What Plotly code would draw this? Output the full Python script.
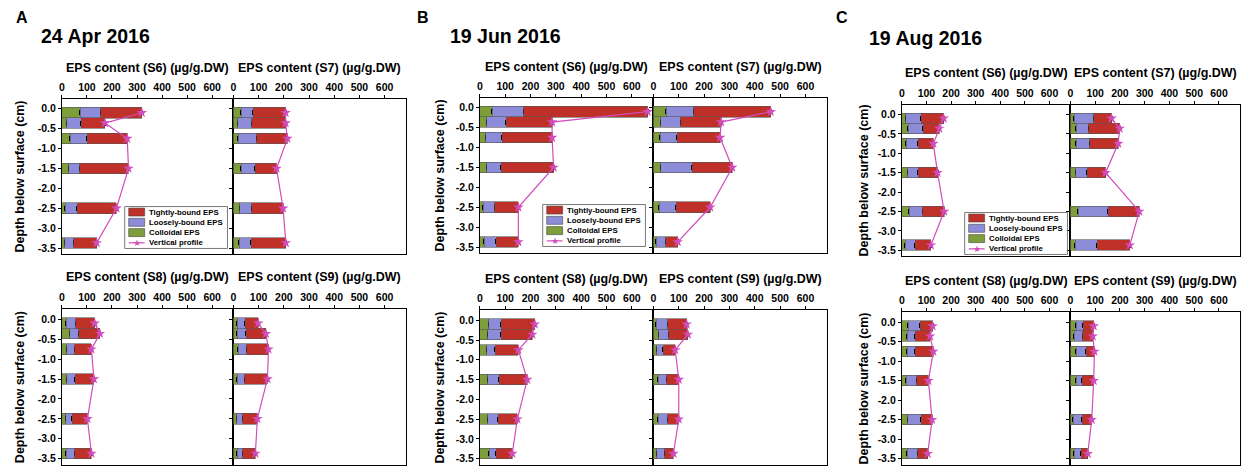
import plotly.graph_objects as go

# ---------------- data ----------------
depths = [-0.1, -0.36, -0.75, -1.5, -2.5, -3.37]
ytick_vals = [0.0, -0.5, -1.0, -1.5, -2.0, -2.5, -3.0, -3.5]
ytick_text = ["0.0", "-0.5", "-1.0", "-1.5", "-2.0", "-2.5", "-3.0", "-3.5"]
xtick_vals = [0, 100, 200, 300, 400, 500, 600]
xtick_text = ["0", "100", "200", "300", "400", "500", "600"]

# Panel A : 24 Apr 2016
A_S6_colloidal = [74, 20, 33, 28, 13, 11]
A_S6_loosely = [82, 57, 68, 44, 48, 37]
A_S6_tightly = [163, 95, 160, 194, 157, 91]
A_S7_colloidal = [30, 17, 20, 30, 26, 24]
A_S7_loosely = [49, 55, 72, 56, 46, 46]
A_S7_tightly = [128, 135, 122, 85, 125, 138]
A_S8_colloidal = [17, 31, 19, 19, 15, 17]
A_S8_loosely = [38, 37, 32, 34, 26, 34]
A_S8_tightly = [76, 84, 67, 75, 61, 67]
A_S9_colloidal = [16, 16, 20, 15, 13, 16]
A_S9_loosely = [30, 34, 33, 29, 24, 21]
A_S9_tightly = [52, 79, 86, 91, 58, 50]

# Panel B : 19 Jun 2016
B_S6_colloidal = [48, 28, 24, 28, 13, 17]
B_S6_loosely = [126, 76, 64, 57, 46, 48]
B_S6_tightly = [488, 181, 197, 206, 93, 87]
B_S7_colloidal = [51, 29, 27, 29, 23, 11]
B_S7_loosely = [109, 78, 66, 124, 68, 38]
B_S7_tightly = [303, 160, 170, 158, 133, 47]
B_S8_colloidal = [35, 31, 28, 31, 31, 37]
B_S8_loosely = [49, 53, 33, 46, 41, 28]
B_S8_tightly = [133, 123, 91, 110, 76, 63]
B_S9_colloidal = [12, 21, 13, 19, 19, 14]
B_S9_loosely = [45, 40, 25, 34, 38, 30]
B_S9_tightly = [74, 75, 48, 47, 43, 35]

# Panel C : 19 Aug 2016
C_S6_colloidal = [15, 27, 17, 24, 31, 13]
C_S6_loosely = [63, 60, 50, 43, 54, 42]
C_S6_tightly = [92, 65, 61, 78, 87, 63]
C_S7_colloidal = [15, 24, 24, 22, 31, 20]
C_S7_loosely = [79, 51, 54, 45, 121, 88]
C_S7_tightly = [72, 124, 115, 75, 126, 132]
C_S8_colloidal = [27, 22, 22, 18, 24, 22]
C_S8_loosely = [47, 33, 33, 43, 54, 43]
C_S8_tightly = [51, 60, 73, 47, 45, 40]
C_S9_colloidal = [23, 16, 23, 23, 12, 16]
C_S9_loosely = [29, 34, 40, 24, 35, 27]
C_S9_tightly = [42, 40, 34, 47, 39, 27]

panels = [
    ("A", "24 Apr 2016", {
        "S6": (A_S6_colloidal, A_S6_loosely, A_S6_tightly),
        "S7": (A_S7_colloidal, A_S7_loosely, A_S7_tightly),
        "S8": (A_S8_colloidal, A_S8_loosely, A_S8_tightly),
        "S9": (A_S9_colloidal, A_S9_loosely, A_S9_tightly)}),
    ("B", "19 Jun 2016", {
        "S6": (B_S6_colloidal, B_S6_loosely, B_S6_tightly),
        "S7": (B_S7_colloidal, B_S7_loosely, B_S7_tightly),
        "S8": (B_S8_colloidal, B_S8_loosely, B_S8_tightly),
        "S9": (B_S9_colloidal, B_S9_loosely, B_S9_tightly)}),
    ("C", "19 Aug 2016", {
        "S6": (C_S6_colloidal, C_S6_loosely, C_S6_tightly),
        "S7": (C_S7_colloidal, C_S7_loosely, C_S7_tightly),
        "S8": (C_S8_colloidal, C_S8_loosely, C_S8_tightly),
        "S9": (C_S9_colloidal, C_S9_loosely, C_S9_tightly)}),
]

series_names = ["Colloidal EPS", "Loosely-bound EPS", "Tightly-bound EPS"]
series_colors = ["#7E9E3C", "#8C8CD8", "#BF3128"]
profile_color = "#D24CBA"

# ---------------- layout geometry (pixels) ----------------
W, H = 1247, 466
FONT = "Arial, 'Liberation Sans', sans-serif"

geom = {
    "A": dict(cols=[(59, 231), (231, 404)], rows=[(99, 255), (310, 466)], title_y=[68, 278],
              ytitle_x=17, label=(11, 18), date=(36, 36), legend=(122, 207)),
    "B": dict(cols=[(478, 652), (652, 826)], rows=[(98, 254), (311, 466)], title_y=[67, 280],
              ytitle_x=438, label=(413, 18), date=(446, 36), legend=(541, 205)),
    "C": dict(cols=[(901, 1070), (1070, 1240)], rows=[(105, 257), (313, 466)], title_y=[73, 282],
              ytitle_x=863, label=(833, 18), date=(866, 38), legend=(964, 213)),
}


def px(x):
    return x / W


def py(y):
    return 1 - y / H


fig = go.Figure()
layout = dict(
    width=W, height=H, margin=dict(l=0, r=0, t=0, b=0),
    paper_bgcolor="white", plot_bgcolor="white",
    barmode="stack", showlegend=False,
    font=dict(family=FONT, color="black"),
)
annotations = []
shapes = []

site_pos = {"S6": (0, 0), "S7": (0, 1), "S8": (1, 0), "S9": (1, 1)}
idx = 0
for label, date, sites in panels:
    g = geom[label]
    for site, (col_v, loose_v, tight_v) in sites.items():
        r, c = site_pos[site]
        idx += 1
        xa = "x" if idx == 1 else f"x{idx}"
        ya = "y" if idx == 1 else f"y{idx}"
        xkey = "xaxis" if idx == 1 else f"xaxis{idx}"
        ykey = "yaxis" if idx == 1 else f"yaxis{idx}"
        x0, x1 = g["cols"][c]
        y0, y1 = g["rows"][r]
        layout[xkey] = dict(
            domain=[px(x0), px(x1)], anchor=ya, side="top", range=[0, 685],
            tickvals=xtick_vals, ticktext=xtick_text, ticks="outside", ticklen=3,
            tickcolor="black", showline=True, linecolor="black", linewidth=1,
            mirror=True, showgrid=False, zeroline=False,
            tickfont=dict(size=10.5, weight="bold", family=FONT),
        )
        layout[ykey] = dict(
            domain=[py(y1), py(y0)], anchor=xa, range=[-3.66, 0.25],
            tickvals=ytick_vals, ticktext=ytick_text, ticks="outside", ticklen=3,
            tickcolor="black", showline=True, linecolor="black", linewidth=1,
            mirror=True, showgrid=False, zeroline=False,
            showticklabels=(c == 0),
            tickfont=dict(size=10.5, weight="bold", family=FONT),
        )
        for vals, name, color in zip((col_v, loose_v, tight_v), series_names, series_colors):
            fig.add_trace(go.Bar(
                x=vals, y=depths, orientation="h", width=0.27, name=name,
                marker=dict(color=color, line=dict(color="#555555", width=0.6)),
                error_x=dict(type="constant", value=2, thickness=1, width=2.5, color="black"),
                xaxis=xa, yaxis=ya, showlegend=False,
            ))
        totals = [a + b + t for a, b, t in zip(col_v, loose_v, tight_v)]
        fig.add_trace(go.Scatter(
            x=totals, y=depths, mode="lines+markers", name="Vertical profile",
            line=dict(color=profile_color, width=1.2),
            marker=dict(symbol="star", size=8, color=profile_color),
            xaxis=xa, yaxis=ya, showlegend=False,
        ))
        # subplot title
        annotations.append(dict(
            text=f"EPS content ({site}) (µg/g.DW)", x=px((x0 + x1) / 2), y=py(g["title_y"][r]),
            xref="paper", yref="paper", xanchor="center", yanchor="middle", showarrow=False,
            font=dict(size=12.5, weight="bold", family=FONT),
        ))
    # y-axis titles
    for r in range(2):
        y0, y1 = g["rows"][r]
        annotations.append(dict(
            text="Depth below surface (cm)", x=px(g["ytitle_x"]), y=py((y0 + y1) / 2),
            xref="paper", yref="paper", xanchor="center", yanchor="middle", showarrow=False,
            textangle=-90, font=dict(size=12.5, weight="bold", family=FONT),
        ))
    # panel letter and date
    annotations.append(dict(
        text=label, x=px(g["label"][0]), y=py(g["label"][1]), xref="paper", yref="paper",
        xanchor="left", yanchor="middle", showarrow=False,
        font=dict(size=16, weight="bold", family=FONT)))
    annotations.append(dict(
        text=date, x=px(g["date"][0]), y=py(g["date"][1]), xref="paper", yref="paper",
        xanchor="left", yanchor="middle", showarrow=False,
        font=dict(size=19.5, weight="bold", family=FONT)))
    # legend box
    lx, ly = g["legend"]
    shapes.append(dict(type="rect", xref="paper", yref="paper",
                       x0=px(lx), x1=px(lx + 103), y0=py(ly + 42), y1=py(ly),
                       line=dict(color="#555555", width=0.8), fillcolor="white"))
    entries = [("Tightly-bound EPS", series_colors[2]), ("Loosely-bound EPS", series_colors[1]),
               ("Colloidal EPS", series_colors[0]), ("Vertical profile", None)]
    for k, (txt, colr) in enumerate(entries):
        ry = ly + 5.5 + 10.3 * k
        if colr:
            shapes.append(dict(type="rect", xref="paper", yref="paper",
                               x0=px(lx + 4), x1=px(lx + 20), y0=py(ry + 4), y1=py(ry - 4),
                               line=dict(color="#444444", width=0.6), fillcolor=colr))
        else:
            shapes.append(dict(type="line", xref="paper", yref="paper",
                               x0=px(lx + 4), x1=px(lx + 20), y0=py(ry), y1=py(ry),
                               line=dict(color=profile_color, width=1.2)))
            annotations.append(dict(text="★", x=px(lx + 12), y=py(ry), xref="paper", yref="paper",
                                    xanchor="center", yanchor="middle", showarrow=False,
                                    font=dict(size=9, color=profile_color)))
        annotations.append(dict(text=txt, x=px(lx + 22), y=py(ry), xref="paper", yref="paper",
                                xanchor="left", yanchor="middle", showarrow=False,
                                font=dict(size=7.8, weight="bold", family=FONT)))

layout["annotations"] = annotations
layout["shapes"] = shapes
fig.update_layout(**layout)
fig.write_html("out.html")
